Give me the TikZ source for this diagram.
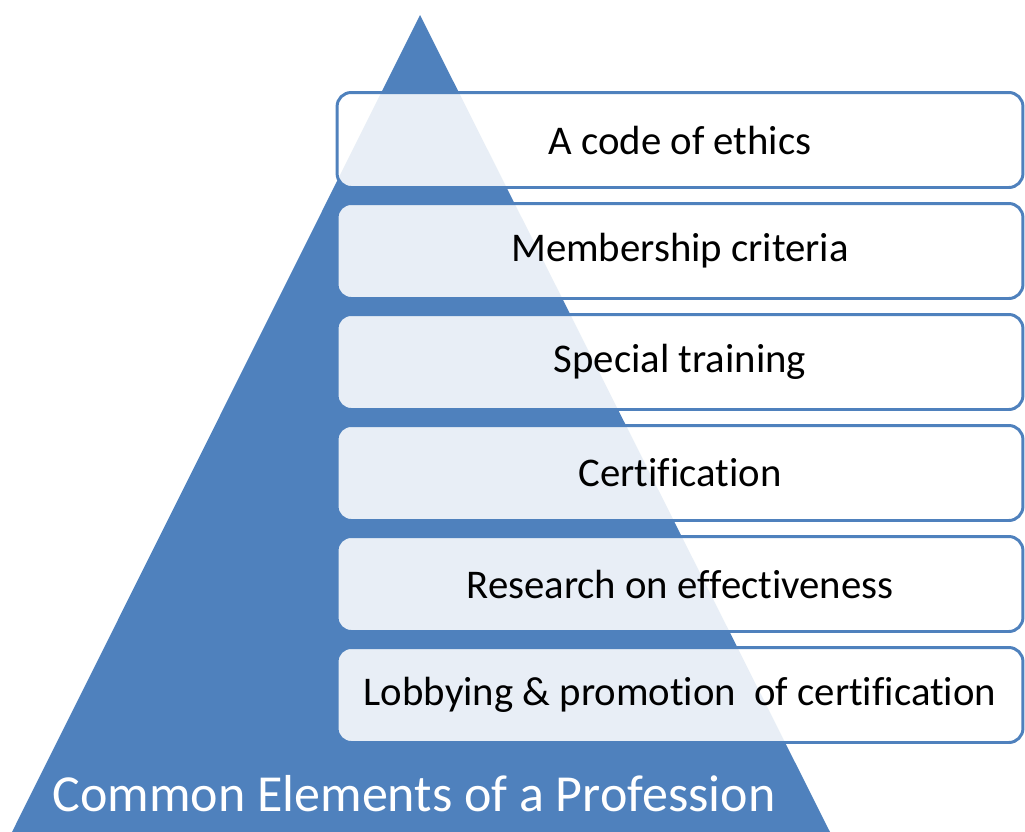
\documentclass[tikz,border=0pt]{standalone}
\usepackage{fontspec}
\setmainfont{Carlito}[Ligatures=NoCommon]
\definecolor{pyrblue}{RGB}{79,129,189}

\begin{document}
\begin{tikzpicture}[x=0.02cm,y=-0.02cm,
    element/.style={draw=pyrblue,line width=1.7pt,rounded corners=8pt,fill=white,fill opacity=0.87,text opacity=1,minimum width=13.72cm,minimum height=1.9cm,inner sep=0pt,font=\fontsize{23.2}{27}\selectfont}]
            \useasboundingbox (0,0) rectangle (1025,832);
            \fill[pyrblue] (420,15)--(12,832)--(830,832)--cycle;
            \node[element] (ethics) at (680,140) {A code of ethics};
            \node[element] (member) at (680,251) {Membership criteria};
            \node[element] (training) at (680,362) {Special training};
            \node[element] (cert) at (680,473) {Certification};
            \node[element] (research) at (680,584) {Research on effectiveness};
            \node[element] (lobby) at (680,695) {Lobbying \& promotion\ \ of certification};
            \node[text=white,font=\fontsize{29.6}{34}\selectfont] (title) at (414,794) {Common Elements of a Profession};
        \end{tikzpicture}
\end{document}
